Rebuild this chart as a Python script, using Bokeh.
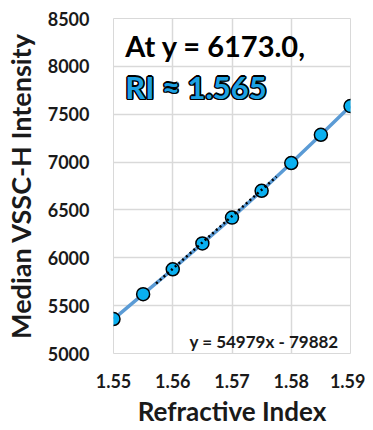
from bokeh.plotting import figure
from bokeh.models import Label, Range1d, FixedTicker
from bokeh.embed import file_html
from bokeh.resources import INLINE

# data
refractive_index = [1.55, 1.555, 1.56, 1.565, 1.57, 1.575, 1.58, 1.585, 1.59]
median_intensity = [5360, 5620, 5880, 6150, 6420, 6700, 6990, 7285, 7585]
trend_slope = 54979
trend_intercept = -79882
trend_x = [1.5572, 1.5775]
x_ticks = [1.55, 1.56, 1.57, 1.58, 1.59]
y_ticks = [5000, 5500, 6000, 6500, 7000, 7500, 8000, 8500]
x_title = "Refractive Index"
y_title = "Median VSSC-H Intensity"
annot_line1 = "At y = 6173.0,"
annot_line2 = "RI \u2248 1.565"
eq_text = "y = 54979x - 79882"

FONT = "Lato"

p = figure(width=365, height=430, output_backend="svg", toolbar_location=None,
           x_range=Range1d(1.55, 1.59), y_range=Range1d(5000, 8500),
           min_border_left=110, min_border_right=15, min_border_top=18, min_border_bottom=77)
p.outline_line_color = "#D9D9D9"
p.background_fill_color = "white"
p.border_fill_color = "white"

for ax in (p.xaxis[0], p.yaxis[0]):
    ax.axis_line_color = None
    ax.major_tick_line_color = None
    ax.minor_tick_line_color = None
    ax.major_tick_out = 0
    ax.major_tick_in = 0
    ax.major_label_text_font = FONT
    ax.major_label_text_font_style = "bold"
    ax.major_label_text_font_size = "18px"
    ax.major_label_text_color = "#1a1a1a"
    ax.axis_label_text_font = FONT
    ax.axis_label_text_font_style = "bold"
    ax.axis_label_text_color = "#1a1a1a"

p.xaxis.ticker = FixedTicker(ticks=x_ticks)
p.yaxis.ticker = FixedTicker(ticks=y_ticks)
p.xaxis.major_label_overrides = {t: f"{t:.2f}" for t in x_ticks}
p.xaxis.axis_label = x_title
p.yaxis.axis_label = y_title
p.xaxis.axis_label_text_font_size = "26px"
p.yaxis.axis_label_text_font_size = "27px"
p.xaxis.major_label_standoff = 20
p.yaxis.major_label_standoff = 24
p.xaxis.axis_label_standoff = 4
p.yaxis.axis_label_standoff = 8

p.xgrid.grid_line_color = "#D9D9D9"
p.ygrid.grid_line_color = "#D9D9D9"
p.xgrid.grid_line_width = 1.5
p.ygrid.grid_line_width = 1.5

p.line(refractive_index, median_intensity, line_color="#5B9BD5", line_width=3.5)
p.scatter(refractive_index, median_intensity, size=13, fill_color="#0AB0F0",
          line_color="black", line_width=1.5)
trend_y = [trend_slope * x + trend_intercept for x in trend_x]
p.line(trend_x, trend_y, line_color="black", line_width=2.5, line_dash="2 3")

# annotations
p.add_layout(Label(x=1.5520, y=8220, text=annot_line1, text_font=FONT, text_font_style="bold",
                   text_font_size="29px", text_color="black", text_baseline="alphabetic"))
offs = [(-1.5, 0), (1.5, 0), (0, -1.5), (0, 1.5), (-1.2, -1.2), (1.2, 1.2), (-1.2, 1.2), (1.2, -1.2)]
for dx, dy in offs:
    p.add_layout(Label(x=1.5520, y=7785, text=annot_line2, text_font=FONT, text_font_style="bold",
                       text_font_size="31px", text_color="black", text_baseline="alphabetic",
                       x_offset=dx, y_offset=dy))
p.add_layout(Label(x=1.5520, y=7785, text=annot_line2, text_font=FONT, text_font_style="bold",
                   text_font_size="31px", text_color="#1DA1E2", text_baseline="alphabetic"))
p.add_layout(Label(x=1.5880, y=5130, text=eq_text, text_font=FONT, text_font_style="bold",
                   text_font_size="17px", text_color="#1a1a1a", text_baseline="alphabetic",
                   text_align="right"))

open("out.html", "w").write(file_html(p, INLINE))
